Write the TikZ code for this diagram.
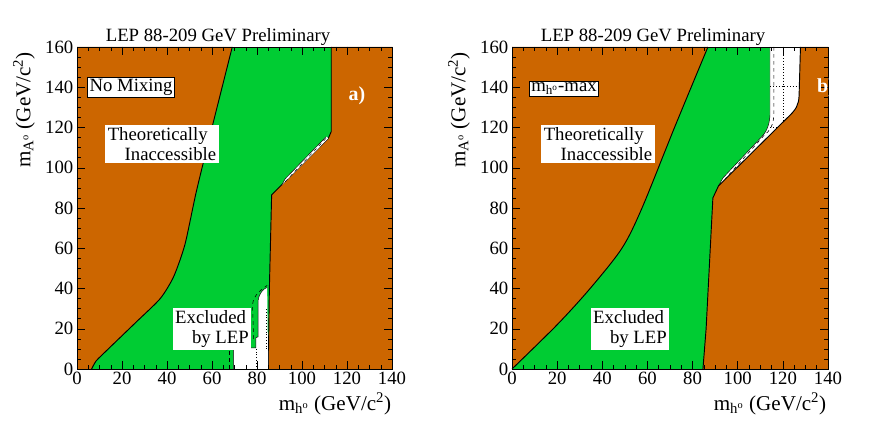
\documentclass[tikz,border=0pt]{standalone}
\usepackage{fontspec}
\setmainfont{Liberation Serif}
\usetikzlibrary{positioning}
\definecolor{theoorange}{RGB}{204,102,0}
\definecolor{lepgreen}{RGB}{0,204,51}
\newcommand{\mh}{m\textsubscript{h\textsuperscript{o}}}
\newcommand{\mA}{m\textsubscript{A\textsuperscript{o}}}
\begin{document}
\begin{tikzpicture}[
  x=0.03cm, y=0.03cm,
  txt/.style = {font=\fontsize{16}{17}\selectfont, inner sep=1pt},
  labelbox/.style = {txt, fill=white, align=left, inner sep=2pt},
  axislabel/.style = {font=\fontsize{18}{20}\selectfont, inner sep=0pt},
  edgeline/.style = {black, line width=0.8pt},
]
\useasboundingbox[fill=white] (0,0) rectangle (872,422);

% ---------------- panel a
\begin{scope}[shift={(77,53)}, xscale=2.25, yscale=2.0125]
  \fill[lepgreen] (0,0) rectangle (140,160);
  \fill[theoorange] plot[smooth, tension=0.4] coordinates {(6.5,0) (8.5,4) (13,9) (26,23) (37,35) (43,46) (48,62) (53,88) (60,120) (69,160)} -- (0,160) -- (0,0) -- cycle;
  \draw[edgeline] plot[smooth, tension=0.4] coordinates {(6.5,0) (8.5,4) (13,9) (26,23) (37,35) (43,46) (48,62) (53,88) (60,120) (69,160)};
  \fill[theoorange] (85,0) -- (85.5,40) -- (86.5,86.5) -- (111.7,114.6) -- (113,118) -- (113,160) -- (140,160) -- (140,0) -- cycle;
  \draw[edgeline] (85,0) -- (85.5,40) -- (86.5,86.5) -- (111.7,114.6) -- (113,118) -- (113,160);
  % white slivers
  \fill[white] (91,91.3) -- (111.7,114.6) -- (110.8,115.5) -- (92.5,94.5) -- cycle;
  \draw[black, line width=0.4pt] (91,91.3) -- (92.5,94.5) -- (110.8,115.5);
  \draw[dashed, line width=0.4pt] (92.5,93) -- (111,115);
  \fill[white] (69.5,0) -- (69.5,10.5) -- (79.5,10.5) -- (79.5,15.5) -- (80.5,16) -- (80.5,34) .. controls (81,38) and (83,40) .. (84.5,40.5) -- (85,0) -- cycle;
  \draw[black, line width=0.4pt] (69.5,0) -- (69.5,10.5) -- (79.5,10.5) -- (79.5,15.5) -- (80.5,16) -- (80.5,34) .. controls (81,38) and (83,40) .. (84.5,40.5);
  \draw[dashed, line width=0.5pt] (67.5,0) -- (67.5,10.5);
  \draw[dashed, line width=0.5pt] (78.5,15) -- (78,32) .. controls (78.5,37) and (82,39.5) .. (84.5,41.5);
  \draw[dotted, line width=0.4pt] (79.5,0) -- (79.5,10.5);
  \draw[dotted, line width=0.4pt] (84,10) -- (84,30);
  % frame and ticks
  \draw[line width=0.6pt] (0,0) rectangle (140,160);
  \foreach \xt in {0,5,...,140} {
    \draw (\xt,0) -- (\xt,2); \draw (\xt,160) -- (\xt,158);
  }
  \foreach \xt in {0,20,...,140} {
    \draw (\xt,0) -- (\xt,4); \draw (\xt,160) -- (\xt,156);
    \node[txt, below=1pt] (ax\xt) at (\xt,0) {\xt};
  }
  \foreach \yt in {0,5,...,160} {
    \draw (0,\yt) -- (1.8,\yt); \draw (140,\yt) -- (138.2,\yt);
  }
  \foreach \yt in {0,20,...,160} {
    \draw (0,\yt) -- (3.6,\yt); \draw (140,\yt) -- (136.4,\yt);
    \node[txt, left=2pt] (ay\yt) at (0,\yt) {\yt};
  }
\end{scope}

% ---------------- panel b
\begin{scope}[shift={(512,53)}, xscale=2.257, yscale=2.0125]
  \fill[lepgreen] (0,0) rectangle (140,160);
  \fill[theoorange] plot[smooth, tension=0.5] coordinates {(0,0) (20,22) (34.6,40) (48.7,60) (57.6,80) (72,120) (86.8,160)} -- (0,160) -- cycle;
  \draw[edgeline] plot[smooth, tension=0.5] coordinates {(0,0) (20,22) (34.6,40) (48.7,60) (57.6,80) (72,120) (86.8,160)};
  \fill[white] (114.3,160) -- (114.3,126) .. controls (114,120) and (112,117) .. (110.6,115.4) -- (93.5,95) -- (91.5,91) -- (121.7,124.5) .. controls (126,129) and (127,131) .. (127.2,136) -- (127.8,160) -- cycle;
  \draw[black, line width=0.4pt] (114.3,160) -- (114.3,126) .. controls (114,120) and (112,117) .. (110.6,115.4) -- (93.5,95) -- (91.5,91);
  \draw[dashed, line width=0.5pt] (116,160) -- (116,126) .. controls (115.8,121) and (114,118) .. (112,116.5) -- (94.5,94.5);
  \draw[dotted, line width=0.4pt] (120,160) -- (120,120.3);
  \draw[dotted, line width=0.4pt] (114.5,140.3) -- (127.3,140.3);
  \draw[dotted, line width=0.4pt] (114.5,120.3) -- (121.5,120.3);
  \fill[theoorange] (84.6,0) -- (86,20) -- (89,85) -- (91.5,91) -- (121.7,124.5) .. controls (126,129) and (127,131) .. (127.2,136) -- (127.8,160) -- (140,160) -- (140,0) -- cycle;
  \draw[edgeline] (84.6,0) -- (86,20) -- (89,85) -- (91.5,91) -- (121.7,124.5) .. controls (126,129) and (127,131) .. (127.2,136) -- (127.8,160);
  % frame and ticks
  \draw[line width=0.6pt] (0,0) rectangle (140,160);
  \foreach \xt in {0,5,...,140} {
    \draw (\xt,0) -- (\xt,2); \draw (\xt,160) -- (\xt,158);
  }
  \foreach \xt in {0,20,...,140} {
    \draw (\xt,0) -- (\xt,4); \draw (\xt,160) -- (\xt,156);
    \node[txt, below=1pt] (bx\xt) at (\xt,0) {\xt};
  }
  \foreach \yt in {0,5,...,160} {
    \draw (0,\yt) -- (1.8,\yt); \draw (140,\yt) -- (138.2,\yt);
  }
  \foreach \yt in {0,20,...,160} {
    \draw (0,\yt) -- (3.6,\yt); \draw (140,\yt) -- (136.4,\yt);
    \node[txt, left=2pt] (by\yt) at (0,\yt) {\yt};
  }
\end{scope}

% ---------------- labels
\node[txt, anchor=south] (titlea) at (218,375) {LEP 88-209 GeV Preliminary};
\node[txt, anchor=south] (titleb) at (653,375) {LEP 88-209 GeV Preliminary};
\node[labelbox, draw, line width=0.6pt, inner sep=1.5pt] (mixa) at (131,335) {No Mixing};
\node[labelbox, draw, line width=0.6pt, inner sep=1.5pt] (mixb) at (564,333) {\mh-max};
\node[txt, white, font=\fontsize{17}{18}\selectfont\bfseries] (taga) at (357,326) {a)};
\node[txt, white, font=\fontsize{17}{18}\selectfont\bfseries] (tagb) at (826,334) {b)};
\node[labelbox] (theoa) at (162,278) {Theoretically\\\hspace{0.9em}Inaccessible};
\node[labelbox] (theob) at (598,278) {Theoretically\\\hspace{0.9em}Inaccessible};
\node[labelbox] (exca) at (212,93) {Excluded\\\hspace{0.9em}by LEP};
\node[labelbox] (excb) at (630,93) {Excluded\\\hspace{0.9em}by LEP};
\node[axislabel, rotate=90] (ylaba) at (24,312) {\mA{} (GeV/c\textsuperscript{2})};
\node[axislabel, rotate=90] (ylabb) at (459,312) {\mA{} (GeV/c\textsuperscript{2})};
\node[axislabel] (xlaba) at (335,18) {\mh{} (GeV/c\textsuperscript{2})};
\node[axislabel] (xlabb) at (770,18) {\mh{} (GeV/c\textsuperscript{2})};
\end{tikzpicture}
\end{document}
